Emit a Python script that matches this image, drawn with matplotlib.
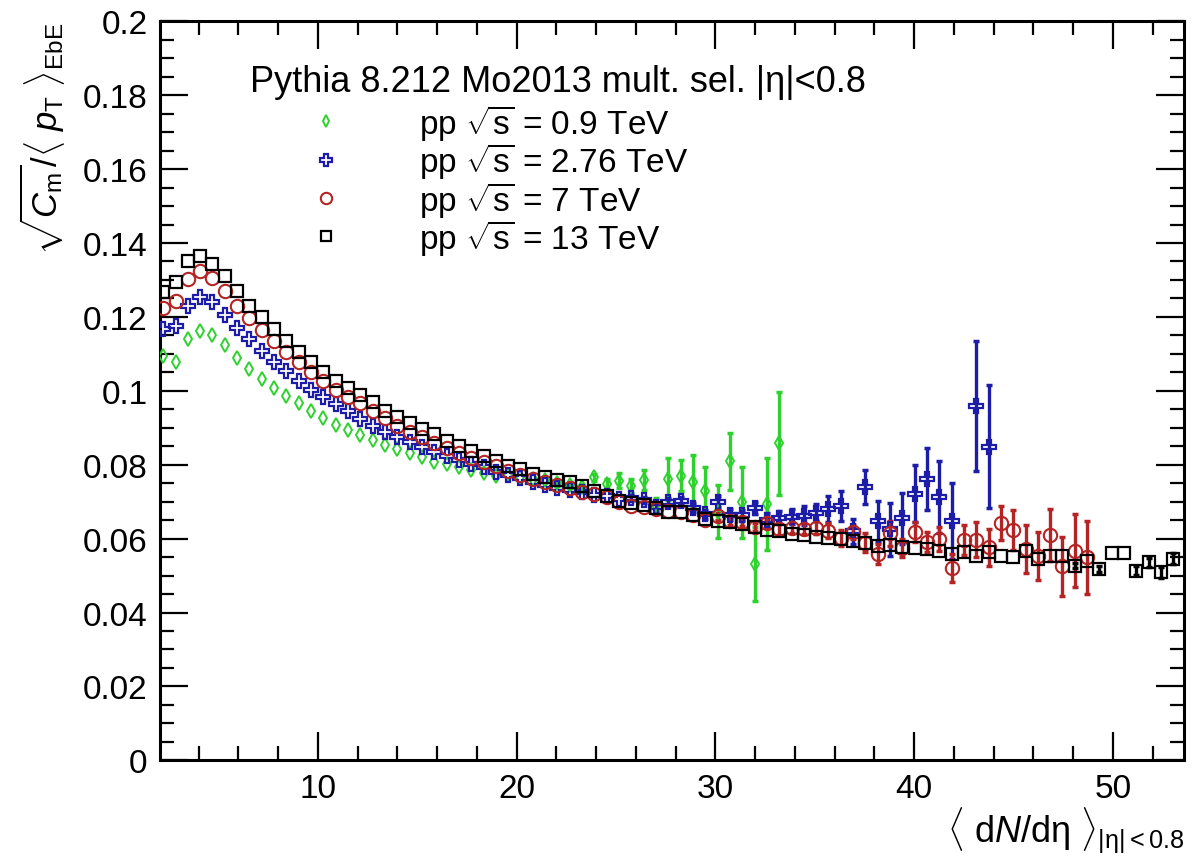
import numpy as np
import matplotlib
matplotlib.use("Agg")
import matplotlib.pyplot as plt
from matplotlib.lines import Line2D
from matplotlib.ticker import MultipleLocator, FuncFormatter

plt.rcParams['font.family'] = ['Liberation Sans', 'DejaVu Sans']
plt.rcParams['mathtext.fontset'] = 'custom'
plt.rcParams['mathtext.rm'] = 'Liberation Sans'
plt.rcParams['mathtext.it'] = 'Liberation Sans:italic'
plt.rcParams['mathtext.bf'] = 'Liberation Sans:bold'

nan = np.nan

# <dN/deta> bin centres
dndeta = [2.23, 2.85, 3.47, 4.09, 4.70, 5.32, 5.94, 6.56, 7.18, 7.80,
          8.42, 9.04, 9.66, 10.28, 10.90, 11.52, 12.14, 12.76, 13.38, 14.00,
          14.62, 15.24, 15.86, 16.48, 17.10, 17.72, 18.34, 18.96, 19.58, 20.19,
          20.81, 21.43, 22.05, 22.67, 23.29, 23.91, 24.53, 25.15, 25.77, 26.39,
          27.01, 27.63, 28.25, 28.87, 29.49, 30.11, 30.73, 31.35, 31.97, 32.59,
          33.21, 33.83, 34.45, 35.07, 35.68, 36.30, 36.92, 37.54, 38.16, 38.78,
          39.40, 40.02, 40.64, 41.26, 41.88, 42.50, 43.12, 43.74, 44.36, 44.98,
          45.60, 46.22, 46.84, 47.46, 48.08, 48.70, 49.32, 49.94, 50.56, 51.17,
          51.79, 52.41, 53.03]

# pp 0.9 TeV
y_09 = [0.1095, 0.1079, 0.1140, 0.1163, 0.1152, 0.1124, 0.1089, 0.1059, 0.1032, 0.1008,
        0.0987, 0.0966, 0.0945, 0.0926, 0.0908, 0.0894, 0.0880, 0.0867, 0.0853, 0.0842,
        0.0832, 0.0820, 0.0808, 0.0801, 0.0794, 0.0786, 0.0777, 0.0769, 0.0772, 0.0768,
        0.0762, 0.0758, 0.0750, 0.0745, 0.0740, 0.0766, 0.0748, 0.0757, 0.0742, 0.0759,
        0.0690, 0.0761, 0.0770, 0.0754, 0.0730, 0.0673, 0.0809, 0.0698, 0.0531, 0.0694,
        0.0858] + [nan] * 32
e_09 = [0.0] * 32 + [0.0008, 0.0008, 0.0008, 0.0010, 0.0014, 0.0020, 0.0019, 0.0027,
                     0.0020, 0.0057, 0.0042, 0.0071, 0.0065, 0.0072, 0.0078, 0.0096,
                     0.0100, 0.0125, 0.0140] + [0.0] * 32

# pp 2.76 TeV
y_276 = [0.1167, 0.1175, 0.1230, 0.1253, 0.1241, 0.1205, 0.1170, 0.1140, 0.1107, 0.1079,
         0.1053, 0.1027, 0.1003, 0.0982, 0.0964, 0.0945, 0.0925, 0.0906, 0.0889, 0.0874,
         0.0861, 0.0847, 0.0835, 0.0823, 0.0813, 0.0802, 0.0793, 0.0781, 0.0772, 0.0763,
         0.0754, 0.0746, 0.0738, 0.0732, 0.0726, 0.0718, 0.0714, 0.0708, 0.0710, 0.0705,
         0.0686, 0.0699, 0.0703, 0.0684, 0.0666, 0.0700, 0.0665, 0.0663, 0.0683, 0.0650,
         0.0657, 0.0659, 0.0662, 0.0670, 0.0680, 0.0689, 0.0620, 0.0739, 0.0647, 0.0625,
         0.0655, 0.0721, 0.0761, 0.0713, 0.0647, nan, 0.0959, 0.0849] + [nan] * 15
e_276 = [0.0] * 38 + [0.0008, 0.0008, 0.0010, 0.0010, 0.0010, 0.0012, 0.0012, 0.0015,
                      0.0015, 0.0015, 0.0016, 0.0018, 0.0018, 0.0020, 0.0025, 0.0023,
                      0.0034, 0.0040, 0.0034, 0.0046, 0.0055, 0.0071, 0.0069, 0.0077,
                      0.0084, 0.0097, 0.0103, 0.0, 0.0176, 0.0166] + [0.0] * 15

# pp 7 TeV
y_7 = [0.1224, 0.1244, 0.1303, 0.1323, 0.1304, 0.1269, 0.1230, 0.1196, 0.1165, 0.1136,
       0.1106, 0.1077, 0.1052, 0.1027, 0.1003, 0.0982, 0.0966, 0.0946, 0.0926, 0.0906,
       0.0889, 0.0874, 0.0859, 0.0844, 0.0832, 0.0818, 0.0807, 0.0796, 0.0784, 0.0772,
       0.0761, 0.0752, 0.0745, 0.0736, 0.0727, 0.0722, 0.0712, 0.0700, 0.0689, 0.0686,
       0.0680, 0.0676, 0.0671, 0.0665, 0.0650, 0.0660, 0.0648, 0.0644, 0.0631, 0.0642,
       0.0626, 0.0629, 0.0627, 0.0630, 0.0621, 0.0602, 0.0618, 0.0589, 0.0558, 0.0615,
       0.0575, 0.0617, 0.0590, 0.0599, 0.0520, 0.0597, 0.0597, 0.0576, 0.0642, 0.0623,
       0.0572, 0.0554, 0.0610, 0.0525, 0.0567, 0.0549] + [nan] * 7
e_7 = [0.0] * 45 + [0.0010, 0.0010, 0.0010, 0.0010, 0.0012, 0.0015, 0.0015, 0.0015,
                    0.0018, 0.0020, 0.0022, 0.0020, 0.0025, 0.0027, 0.0034, 0.0025,
                    0.0027, 0.0027, 0.0032, 0.0038, 0.0040, 0.0047, 0.0050, 0.0047,
                    0.0055, 0.0066, 0.0065, 0.0071, 0.0079, 0.0099, 0.0098] + [0.0] * 7

# pp 13 TeV
y_13 = [0.1267, 0.1294, 0.1352, 0.1366, 0.1343, 0.1312, 0.1271, 0.1230, 0.1199, 0.1167,
        0.1136, 0.1104, 0.1077, 0.1052, 0.1027, 0.1007, 0.0988, 0.0969, 0.0945, 0.0930,
        0.0912, 0.0897, 0.0883, 0.0865, 0.0851, 0.0838, 0.0824, 0.0811, 0.0797, 0.0788,
        0.0775, 0.0766, 0.0759, 0.0752, 0.0742, 0.0730, 0.0716, 0.0703, 0.0696, 0.0691,
        0.0682, 0.0673, 0.0671, 0.0664, 0.0653, 0.0648, 0.0644, 0.0640, 0.0631, 0.0623,
        0.0621, 0.0612, 0.0611, 0.0604, 0.0601, 0.0599, 0.0593, 0.0588, 0.0581, 0.0583,
        0.0576, 0.0575, 0.0572, 0.0567, 0.0558, 0.0563, 0.0554, 0.0563, 0.0552, 0.0549,
        0.0567, 0.0545, 0.0554, 0.0552, 0.0527, 0.0540, 0.0518, 0.0561, 0.0561, 0.0513,
        0.0536, 0.0509, 0.0545]
e_13 = [0.0] * 74 + [0.0006, 0.0, 0.0008, 0.0, 0.0, 0.0012, 0.0012, 0.0015, 0.0015]

series = [
    (y_09, e_09, '#2fd12f', 'd', 6.8, 1.4, 'pp $\\sqrt{\\rm s}$ = 0.9 TeV'),
    (y_276, e_276, '#1c1ca8', 'P', 10.0, 1.6, 'pp $\\sqrt{\\rm s}$ = 2.76 TeV'),
    (y_7, e_7, '#b52424', 'o', 9.6, 1.5, 'pp $\\sqrt{\\rm s}$ = 7 TeV'),
    (y_13, e_13, '#000000', 's', 9.0, 1.6, 'pp $\\sqrt{\\rm s}$ = 13 TeV'),
]

fig = plt.figure(figsize=(12.01, 8.62), dpi=100)
ax = fig.add_axes([0.1332, 0.1168, 0.8526, 0.8573])

x = np.array(dndeta)
handles = []
for yv, ev, col, mk, ms, mw, lab in series:
    yv = np.array(yv)
    ev = np.array(ev)
    m = ev > 0
    if m.any():
        ax.errorbar(x[m], yv[m], yerr=ev[m], fmt='none', ecolor=col,
                    elinewidth=2.4, capsize=2.5, capthick=2.5, zorder=2)
    ax.plot(x, yv, ls='none', marker=mk, ms=ms, mfc='none', mec=col, mew=mw, zorder=3)
    handles.append(Line2D([], [], ls='none', marker=mk, ms=ms * 0.85, mfc='none', mec=col,
                          mew=mw, label=lab))

ax.set_xlim(2.06, 53.57)
ax.set_ylim(0, 0.2)
ax.xaxis.set_major_locator(MultipleLocator(10))
ax.xaxis.set_minor_locator(MultipleLocator(2))
ax.yaxis.set_major_locator(MultipleLocator(0.02))
ax.yaxis.set_minor_locator(MultipleLocator(0.005))
ax.yaxis.set_major_formatter(FuncFormatter(lambda v, p: f'{round(v, 3):g}'))
ax.tick_params(which='both', direction='in', top=True, right=True, width=1.6, labelsize=24)
ax.tick_params(which='major', length=20, pad=9)
ax.tick_params(which='minor', length=10)
for s in ax.spines.values():
    s.set_linewidth(2.2)

ax.set_ylabel(r'$\sqrt{C_{\rm m}}/\langle\ p_{\rm T}\ \rangle_{\rm EbE}$', fontsize=25, loc='top')
ax.yaxis.set_label_coords(-0.090, 1.0)
ax.set_xlabel(r'$\langle\ {\rm d}N/{\rm d\eta}\ \rangle_{{\rm |\eta|{<}0.8}}$', fontsize=26, loc='right')
ax.xaxis.set_label_coords(1.0, -0.060)

ax.text(0.088, 0.918, 'Pythia 8.212 Mo2013 mult. sel. |\u03b7|<0.8', transform=ax.transAxes,
        fontsize=26, va='center', ha='left')
ax.legend(handles=handles, loc='upper left', bbox_to_anchor=(0.146, 0.891), frameon=False,
          fontsize=24, handlelength=1.0, handletextpad=2.3, labelspacing=-0.05,
          borderpad=0, borderaxespad=0)

fig.savefig('out.png', dpi=100)
